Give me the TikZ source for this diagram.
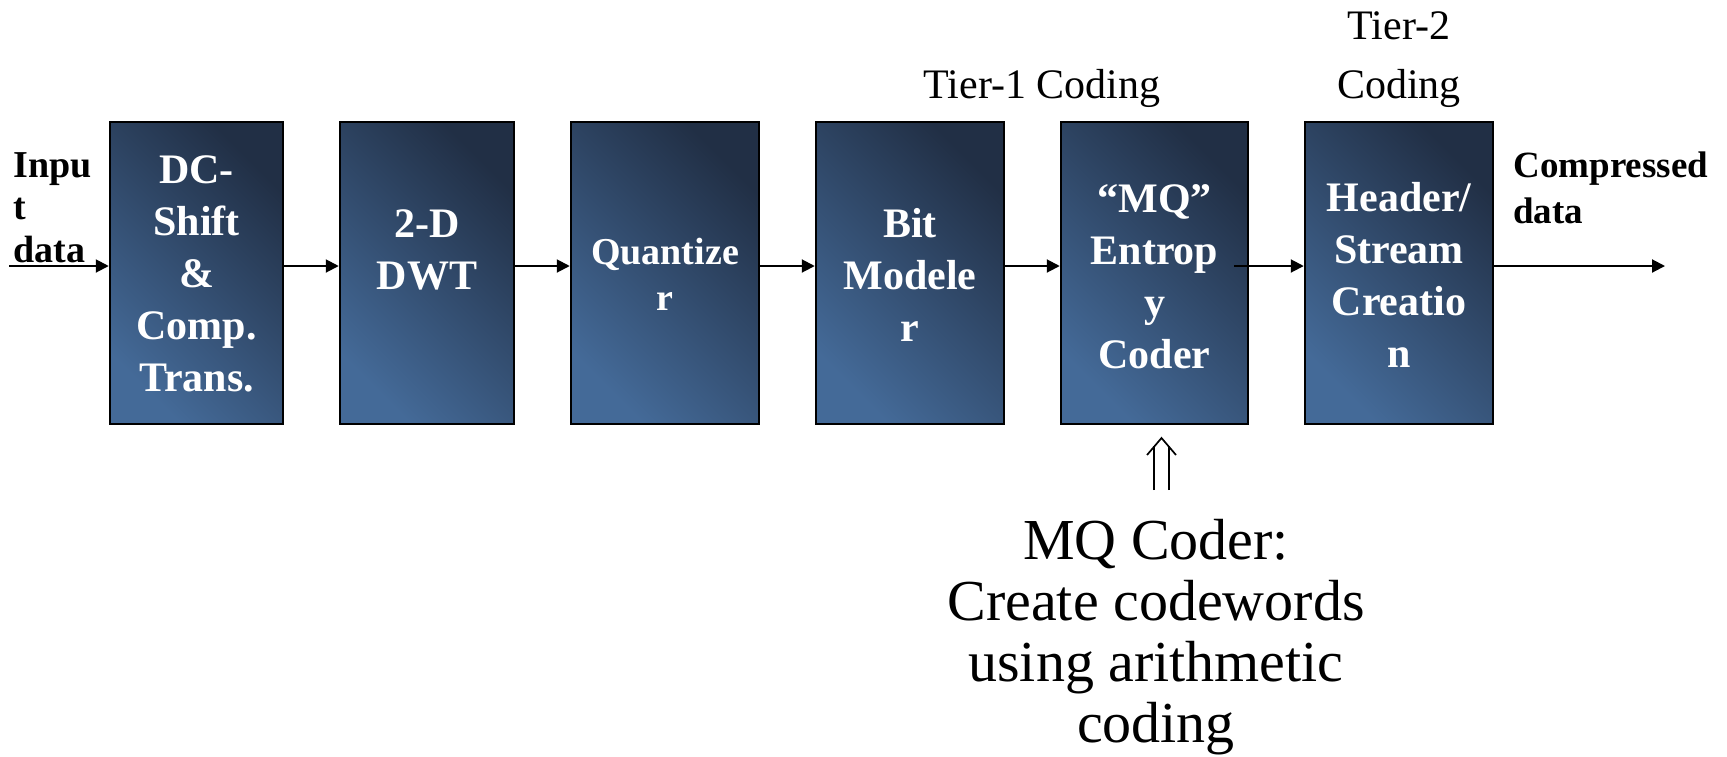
\documentclass[tikz,border=0pt]{standalone}
\usepackage{fontspec}
\setmainfont{Liberation Serif}
\usetikzlibrary{arrows.meta}
\definecolor{boxlight}{RGB}{68,106,152}
\definecolor{boxdark}{RGB}{33,47,69}
\newcommand{\mylines}[2][c]{\begin{tabular}[t]{@{}#1@{}}#2\end{tabular}}
\begin{document}
\begin{tikzpicture}[x=0.5pt,y=-0.5pt,
  stage/.style={draw=black, line width=1.25pt, left color=boxlight, right color=boxdark, shading angle=135, minimum height=151pt, inner sep=0pt},
  boxtext/.style={anchor=base, text=white, inner sep=0pt, font=\fontsize{21}{26}\selectfont\bfseries},
  flow/.style={line width=1pt, -{Triangle[length=6.5pt,width=6.5pt]}},
  plain/.style={anchor=base, inner sep=0pt, font=\fontsize{21}{29.5}\selectfont},
  dbl/.style={line width=0.85pt}
]
\useasboundingbox (0,0) rectangle (1727,756);

% stages
\node[stage, minimum width=86.5pt] (b1) at (196.5,273) {};
\node[stage, minimum width=87pt]   (b2) at (427,273) {};
\node[stage, minimum width=94pt]   (b3) at (665,273) {};
\node[stage, minimum width=94pt]   (b4) at (910,273) {};
\node[stage, minimum width=93.5pt] (b5) at (1154.5,273) {};
\node[stage, minimum width=94pt]   (b6) at (1399,273) {};

% stage texts
\node[boxtext] (t1) at (196.5,183) {\mylines{DC-\\Shift\\\&\\Comp.\\Trans.}};
\node[boxtext] (t2) at (427,237) {\mylines{2-D\\DWT}};
\node[boxtext, font=\fontsize{19}{23}\selectfont\bfseries] (t3) at (665,264) {\mylines{Quantize\\r}};
\node[boxtext] (t4) at (910,237) {\mylines{Bit\\Modele\\r}};
\node[boxtext] (t5) at (1154.5,212) {\mylines{“MQ”\\Entrop\\y\\Coder}};
\node[boxtext] (t6) at (1399,211) {\mylines{Header/\\Stream\\Creatio\\n}};

% side labels
\node[anchor=base west, inner sep=0pt, font=\fontsize{19}{21.25}\selectfont\bfseries] (inlab) at (13,177) {\mylines[l]{Inpu\\t\\data}};
\node[anchor=base west, inner sep=0pt, font=\fontsize{18.5}{23}\selectfont\bfseries] (outlab) at (1513,177) {\mylines[l]{Compressed\\data}};

% tier labels
\node[plain] (tier1) at (1042,98) {Tier-1 Coding};
\node[plain] (tier2) at (1399,39) {\mylines{Tier-2\\Coding}};

% MQ note
\node[anchor=base, inner sep=0pt, font=\fontsize{29}{30.5}\selectfont] (mq) at (1156,559) {\mylines{MQ Coder:\\Create codewords\\using arithmetic\\coding}};

% connectors
\coordinate (in) at (9,266);
\coordinate (mqout) at (1234,266);
\coordinate (out) at (1665,266);
\draw[flow] (in) -- (b1.west |- in);
\draw[flow] (b1.east |- in) -- (b2.west |- in);
\draw[flow] (b2.east |- in) -- (b3.west |- in);
\draw[flow] (b3.east |- in) -- (b4.west |- in);
\draw[flow] (b4.east |- in) -- (b5.west |- in);
\draw[flow] (mqout) -- (b6.west |- in);
\draw[flow] (b6.east |- in) -- (out);

% double up-arrow glyph
\draw[dbl] (1154,490) -- (1154,446) (1169,490) -- (1169,446);
\draw[dbl, line join=miter] (1147,455) -- (1161.5,438) -- (1176,455);
\end{tikzpicture}
\end{document}
